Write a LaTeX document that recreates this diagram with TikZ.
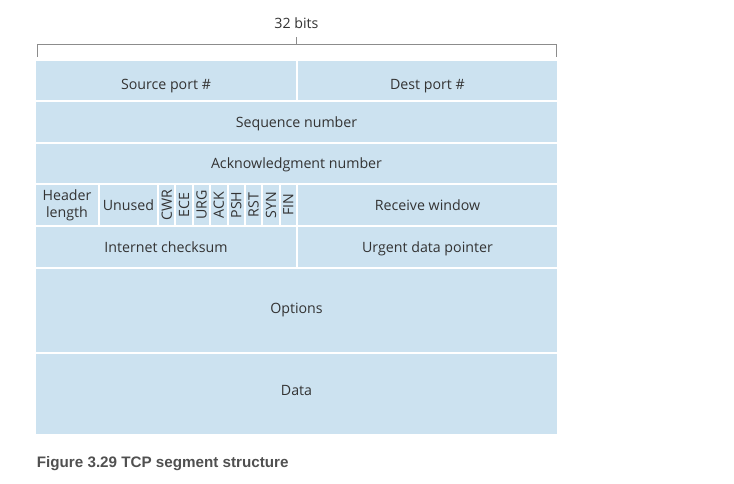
\documentclass[tikz,border=0pt]{standalone}
\usepackage{fontspec}
\setmainfont{Open Sans}
\newfontfamily\capfont{Liberation Sans}
\definecolor{pale}{RGB}{204,226,240}
\definecolor{ink}{RGB}{51,51,51}
\definecolor{rulegrey}{RGB}{140,140,140}
\definecolor{capgrey}{RGB}{80,80,80}

\begin{document}
\begin{tikzpicture}[x=1pt,y=-1pt,
  cell/.style={draw=white,line width=2pt,fill=pale,text=ink,inner sep=0pt,outer sep=0pt,
    anchor=north west,font=\fontsize{14.2}{16.5}\selectfont},
  field/.style={cell,text height=10.3,text depth=0},
  flagcell/.style={field,anchor=center,rotate=90,minimum width=42,minimum height=17.375}]
\useasboundingbox (0,0) rectangle (734,484);
% width marker
\coordinate (bl) at (37.5,57);
\coordinate (br) at (556.5,57);
\coordinate (bt) at (296.5,44.5);
\coordinate (tk) at (296.5,37.5);
\draw [rulegrey, line width=1pt] (bl) |- (bt) -| (br);
\draw [rulegrey, line width=1pt] (bt) -- (tk);
\node [anchor=base,inner sep=0pt,text=ink,font=\fontsize{14.2}{16}\selectfont] (bits) at (296.5,29) {32 bits};
% header rows
\node [field,text height=17.3,minimum width=262,minimum height=41] (src) at (35,60) {Source port \#};
\node [field,text height=17.3,minimum width=261,minimum height=41] (dst) at (297,60) {Dest port \#};
\node [field,minimum width=523,minimum height=42] (seq) at (35,101) {Sequence number};
\node [field,minimum width=523,minimum height=41] (ack) at (35,143) {Acknowledgment number};
\node [cell,minimum width=64,minimum height=42,align=center] (hlen) at (35,184.5) {Header\\length};
\node [field,minimum width=59,minimum height=42] (unused) at (99,184) {Unused};
\foreach \f [count=\i] in {CWR,ECE,URG,ACK,PSH,RST,SYN,FIN}
  \node [flagcell] (flag\i) at ({158+17.375*(\i-0.5)},205) {\f};
\node [field,minimum width=261,minimum height=42] (rwnd) at (297,184) {Receive window};
\node [field,minimum width=262,minimum height=42] (cksum) at (35,226) {Internet checksum};
\node [field,minimum width=261,minimum height=42] (urgptr) at (297,226) {Urgent data pointer};
\node [field,text height=5.6,minimum width=523,minimum height=85] (opts) at (35,268) {Options};
\node [field,text height=3,minimum width=523,minimum height=82] (data) at (35,353) {Data};
% caption
\node [anchor=base west,inner sep=0pt,text=capgrey,font=\capfont\bfseries\fontsize{15.2}{18}\selectfont] (caption) at (36.7,467.3) {Figure 3.29 TCP segment structure};
\end{tikzpicture}
\end{document}
